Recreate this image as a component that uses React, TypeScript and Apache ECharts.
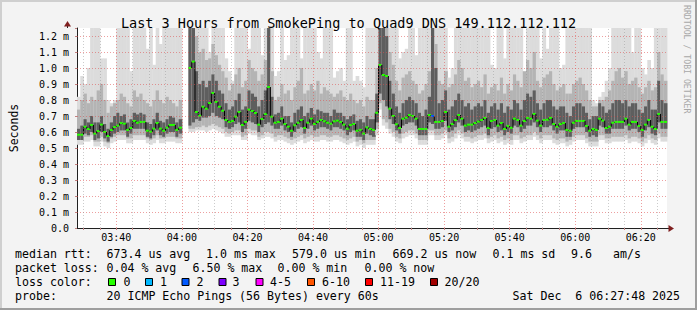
import React, { useEffect, useRef } from 'react';
import * as echarts from 'echarts';

// ---------- time axis ----------
const START_HOUR = 3;
const START_MIN = 28;
const SPAN_MIN = 180;
const timeCats: string[] = [];
for (let i = 0; i <= SPAN_MIN; i++) {
  const t = START_HOUR * 60 + START_MIN + i;
  timeCats.push(String(Math.floor(t / 60)).padStart(2, '0') + ':' + String(t % 60).padStart(2, '0'));
}
const majorTimes = ['03:40', '04:00', '04:20', '04:40', '05:00', '05:20', '05:40', '06:00', '06:20'];
const yTicks = [0.1, 0.2, 0.3, 0.4, 0.5, 0.6, 0.7, 0.8, 0.9, 1.0, 1.1, 1.2];

// ---------- per-minute data (ms) ----------
const median = [
  0.583, 0.583, 0.633, 0.619, 0.644, 0.590, 0.606, 0.646, 0.600, 0.575, 0.613, 0.631, 0.640, 0.656, 0.652, 0.613, 0.625, 0.669, 0.658, 0.663, 0.663, 0.608, 0.602, 0.621, 0.656, 0.621, 0.608, 0.627, 0.644, 0.644, 0.613, 0.627,
  null, null,
  1.000, 1.040, 0.725, 0.702, 0.758, 0.746, 0.781, 0.844, 0.788, 0.758, 0.733, 0.675, 0.663, 0.669, 0.696, 0.725, 0.644, 0.663, 0.740, 0.731, 0.719, 0.646, 0.681, 0.713, 0.881, 0.696,
  0.658, 0.663, 0.683, 0.650, 0.633, 0.608, 0.642, 0.658, 0.675, 0.625, 0.658, 0.683, 0.650, 0.663, 0.675, 0.667, 0.658, 0.652, 0.667, 0.671, 0.663, 0.646, 0.621, 0.644, 0.650, 0.608, 0.613, 0.590, 0.629, 0.619,
  0.613, 0.720, 1.019, 0.956, 0.950, 0.746, 0.700, 0.648, 0.625, 0.683, 0.690, 0.706, 0.700, 0.683, 0.619, 0.619, 0.619, 0.706, 0.700, 0.663, 0.663, 0.669, 0.725, 0.633, 0.650, 0.675, 0.706, 0.683, 0.640, 0.646,
  0.646, 0.656, 0.665, 0.675, 0.688, 0.625, 0.669, 0.675, 0.640, 0.656, 0.619, 0.638, 0.627, 0.683, 0.675, 0.640, 0.669, 0.688, 0.683, 0.713, 0.671, 0.640, 0.675, 0.677, 0.688, 0.650, 0.633, 0.650, 0.656, 0.613,
  0.608, 0.658, 0.669, 0.669, 0.669, 0.638, 0.608, 0.619, 0.613, 0.683, 0.671, 0.625, 0.633, 0.658, 0.663, 0.663, 0.663, 0.683, 0.646, 0.663, 0.663, 0.638, 0.613, 0.646, 0.675, 0.633, 0.619, 0.713, 0.663, 0.663,
];
const smokeTop = [
  0.82, 0.95, 0.90, 1.00, 1.25, 1.25, 1.25, 1.06, 1.06, 0.80, 0.78, 0.80, 1.25, 1.25, 1.25, 1.25, 0.98, 1.25, 1.25, 1.25, 1.25, 1.12, 1.25, 1.02, 1.25, 1.15, 1.25, 1.25, 1.25, 1.25, 1.25, 1.25,
  null, null,
  1.25, 1.25, 1.25, 1.25, 1.25, 1.25, 1.10, 1.25, 1.25, 1.25, 1.25, 1.06, 0.98, 0.92, 1.25, 1.25, 1.25, 1.25, 1.12, 1.25, 1.25, 1.25, 1.08, 1.25, 1.25, 1.25,
  0.95, 0.98, 1.25, 1.05, 1.08, 1.25, 1.25, 1.25, 1.06, 1.25, 1.25, 1.25, 1.25, 1.10, 1.06, 1.25, 1.25, 1.25, 0.94, 0.98, 1.00, 0.92, 1.25, 1.25, 0.92, 0.95, 0.92, 0.88, 1.25, 1.25,
  1.25, 1.25, 1.25, 1.25, 1.25, 1.25, 1.25, 1.25, 1.06, 1.10, 1.12, 1.25, 1.25, 1.08, 1.25, 1.25, 1.25, 1.25, 1.25, 1.25, 1.25, 1.25, 1.25, 0.94, 1.00, 1.25, 1.25, 1.25, 1.25, 1.25,
  1.25, 1.25, 1.25, 1.25, 1.25, 1.25, 1.02, 1.00, 1.25, 1.25, 1.06, 1.25, 1.25, 1.25, 1.25, 1.25, 0.95, 1.25, 1.25, 1.25, 1.25, 1.06, 1.25, 1.12, 1.25, 1.25, 1.25, 1.00, 1.02, 1.25,
  1.25, 1.25, 1.25, 1.25, 1.25, 1.25, 1.25, 0.80, 0.78, 0.82, 0.85, 0.92, 1.00, 1.25, 1.25, 1.25, 1.25, 1.25, 1.25, 1.10, 1.25, 1.25, 1.00, 0.96, 1.05, 1.00, 1.25, 1.25, 1.25, 1.25,
];
const smokeLow = [
  0.52, 0.52, 0.54, 0.54, 0.55, 0.51, 0.51, 0.54, 0.51, 0.50, 0.53, 0.54, 0.55, 0.55, 0.55, 0.53, 0.53, 0.55, 0.55, 0.55, 0.55, 0.53, 0.52, 0.53, 0.55, 0.53, 0.53, 0.54, 0.54, 0.54, 0.53, 0.53,
  null, null,
  0.60, 0.60, 0.61, 0.61, 0.61, 0.60, 0.61, 0.62, 0.61, 0.60, 0.59, 0.57, 0.57, 0.58, 0.58, 0.58, 0.55, 0.55, 0.59, 0.58, 0.58, 0.55, 0.56, 0.57, 0.57, 0.56,
  0.54, 0.55, 0.55, 0.54, 0.53, 0.52, 0.53, 0.54, 0.55, 0.53, 0.54, 0.55, 0.54, 0.54, 0.55, 0.55, 0.54, 0.54, 0.55, 0.55, 0.54, 0.53, 0.52, 0.53, 0.54, 0.51, 0.52, 0.50, 0.52, 0.52,
  0.52, 0.58, 0.74, 0.64, 0.62, 0.59, 0.57, 0.54, 0.53, 0.56, 0.57, 0.58, 0.58, 0.56, 0.52, 0.52, 0.52, 0.58, 0.58, 0.55, 0.55, 0.56, 0.58, 0.53, 0.54, 0.56, 0.58, 0.56, 0.54, 0.54,
  0.53, 0.54, 0.55, 0.55, 0.56, 0.53, 0.54, 0.55, 0.53, 0.54, 0.52, 0.53, 0.52, 0.55, 0.55, 0.53, 0.54, 0.55, 0.55, 0.57, 0.55, 0.53, 0.55, 0.55, 0.55, 0.53, 0.52, 0.53, 0.53, 0.51,
  0.52, 0.54, 0.55, 0.55, 0.55, 0.53, 0.51, 0.51, 0.51, 0.55, 0.55, 0.53, 0.53, 0.54, 0.54, 0.54, 0.54, 0.55, 0.53, 0.54, 0.54, 0.53, 0.51, 0.53, 0.55, 0.53, 0.52, 0.56, 0.54, 0.54,
];
const midLow = [
  0.55, 0.55, 0.57, 0.57, 0.58, 0.54, 0.54, 0.57, 0.54, 0.53, 0.56, 0.57, 0.58, 0.58, 0.58, 0.56, 0.56, 0.58, 0.58, 0.58, 0.58, 0.56, 0.55, 0.56, 0.58, 0.56, 0.56, 0.57, 0.57, 0.57, 0.56, 0.56,
  null, null,
  0.62, 0.62, 0.63, 0.63, 0.64, 0.63, 0.64, 0.65, 0.64, 0.63, 0.62, 0.60, 0.59, 0.60, 0.61, 0.61, 0.57, 0.58, 0.62, 0.61, 0.61, 0.57, 0.58, 0.60, 0.60, 0.59,
  0.57, 0.58, 0.58, 0.57, 0.56, 0.55, 0.56, 0.57, 0.58, 0.56, 0.57, 0.58, 0.57, 0.57, 0.58, 0.58, 0.57, 0.57, 0.58, 0.58, 0.57, 0.56, 0.55, 0.56, 0.57, 0.54, 0.55, 0.53, 0.55, 0.55,
  0.55, 0.62, 0.78, 0.68, 0.66, 0.62, 0.60, 0.57, 0.56, 0.59, 0.60, 0.61, 0.61, 0.59, 0.55, 0.55, 0.55, 0.61, 0.61, 0.58, 0.58, 0.59, 0.61, 0.56, 0.57, 0.59, 0.61, 0.59, 0.57, 0.57,
  0.56, 0.57, 0.58, 0.58, 0.59, 0.56, 0.57, 0.58, 0.56, 0.57, 0.55, 0.56, 0.55, 0.58, 0.58, 0.56, 0.57, 0.58, 0.58, 0.60, 0.58, 0.56, 0.58, 0.58, 0.58, 0.56, 0.55, 0.56, 0.56, 0.54,
  0.55, 0.57, 0.58, 0.58, 0.58, 0.56, 0.54, 0.54, 0.54, 0.58, 0.58, 0.56, 0.56, 0.57, 0.57, 0.57, 0.57, 0.58, 0.56, 0.57, 0.57, 0.56, 0.54, 0.56, 0.58, 0.56, 0.55, 0.59, 0.57, 0.57,
];
const midHigh = [
  0.74, 0.80, 0.84, 0.78, 0.82, 0.80, 0.86, 0.90, 0.80, 0.72, 0.76, 0.78, 0.80, 0.84, 0.82, 0.78, 0.76, 0.86, 0.82, 0.84, 0.80, 0.78, 0.76, 0.80, 0.86, 0.80, 0.78, 0.82, 0.80, 0.78, 0.76, 0.80,
  null, null,
  1.25, 1.25, 1.20, 1.10, 1.12, 1.05, 1.06, 1.15, 1.08, 1.02, 0.98, 0.94, 0.86, 0.90, 0.96, 1.00, 0.88, 0.92, 1.05, 1.00, 0.98, 0.92, 0.96, 1.05, 1.25, 0.98,
  0.80, 0.82, 0.90, 0.84, 0.86, 0.80, 0.88, 0.92, 1.00, 0.84, 0.86, 0.90, 0.86, 0.92, 0.84, 0.88, 0.86, 0.84, 0.82, 0.84, 0.86, 0.82, 0.80, 0.84, 0.80, 0.78, 0.80, 0.76, 0.82, 0.80,
  0.80, 1.00, 1.25, 1.25, 1.25, 1.10, 1.02, 0.92, 0.86, 0.94, 0.96, 0.98, 0.92, 0.90, 0.84, 0.86, 0.90, 0.98, 1.25, 1.15, 0.92, 0.90, 0.98, 0.88, 0.90, 0.96, 1.05, 1.00, 0.92, 0.94,
  0.88, 0.90, 0.92, 0.88, 0.96, 0.84, 0.88, 0.90, 0.86, 0.94, 0.84, 0.90, 0.86, 0.96, 0.92, 0.88, 0.98, 1.05, 1.00, 1.10, 0.92, 0.88, 0.94, 0.96, 0.98, 0.90, 0.86, 0.88, 0.90, 0.84,
  0.84, 0.90, 0.92, 0.94, 0.90, 0.86, 0.80, 0.76, 0.76, 0.80, 0.80, 0.82, 0.86, 0.92, 0.98, 1.00, 0.94, 0.98, 0.90, 0.92, 0.94, 0.88, 0.84, 0.88, 0.92, 0.86, 0.88, 1.10, 0.96, 0.92,
];
const darkLow = [
  0.55, 0.55, 0.59, 0.58, 0.60, 0.55, 0.56, 0.60, 0.56, 0.54, 0.57, 0.59, 0.60, 0.61, 0.61, 0.57, 0.59, 0.62, 0.62, 0.62, 0.62, 0.57, 0.56, 0.58, 0.61, 0.58, 0.57, 0.59, 0.60, 0.60, 0.57, 0.59,
  null, null,
  0.64, 0.66, 0.68, 0.67, 0.69, 0.69, 0.70, 0.72, 0.70, 0.69, 0.68, 0.63, 0.62, 0.63, 0.65, 0.66, 0.60, 0.62, 0.67, 0.66, 0.65, 0.60, 0.63, 0.65, 0.66, 0.64,
  0.62, 0.62, 0.64, 0.61, 0.60, 0.57, 0.60, 0.62, 0.63, 0.59, 0.62, 0.64, 0.61, 0.62, 0.63, 0.63, 0.62, 0.61, 0.63, 0.63, 0.62, 0.61, 0.58, 0.60, 0.61, 0.57, 0.57, 0.55, 0.59, 0.58,
  0.57, 0.66, 0.84, 0.80, 0.76, 0.68, 0.65, 0.61, 0.59, 0.64, 0.65, 0.66, 0.66, 0.64, 0.58, 0.58, 0.58, 0.66, 0.65, 0.62, 0.62, 0.63, 0.67, 0.60, 0.61, 0.63, 0.66, 0.64, 0.60, 0.61,
  0.60, 0.61, 0.62, 0.63, 0.64, 0.58, 0.62, 0.63, 0.60, 0.61, 0.58, 0.60, 0.59, 0.64, 0.63, 0.60, 0.62, 0.64, 0.64, 0.66, 0.63, 0.60, 0.63, 0.63, 0.64, 0.61, 0.59, 0.61, 0.61, 0.57,
  0.57, 0.62, 0.63, 0.63, 0.63, 0.60, 0.57, 0.58, 0.57, 0.64, 0.63, 0.59, 0.59, 0.62, 0.62, 0.62, 0.62, 0.64, 0.61, 0.62, 0.62, 0.60, 0.57, 0.61, 0.63, 0.59, 0.58, 0.66, 0.62, 0.62,
];
const darkHigh = [
  0.62, 0.64, 0.68, 0.66, 0.70, 0.66, 0.66, 0.70, 0.65, 0.62, 0.66, 0.70, 0.72, 0.70, 0.71, 0.66, 0.68, 0.72, 0.71, 0.72, 0.71, 0.66, 0.65, 0.68, 0.72, 0.67, 0.66, 0.68, 0.70, 0.69, 0.66, 0.68,
  null, null,
  1.25, 1.25, 0.98, 0.90, 0.92, 0.88, 0.92, 0.96, 0.92, 0.86, 0.84, 0.78, 0.74, 0.76, 0.80, 0.84, 0.74, 0.76, 0.86, 0.84, 0.82, 0.76, 0.80, 0.86, 1.25, 0.82,
  0.71, 0.72, 0.76, 0.70, 0.70, 0.66, 0.72, 0.74, 0.76, 0.70, 0.72, 0.75, 0.71, 0.74, 0.73, 0.72, 0.72, 0.70, 0.74, 0.72, 0.72, 0.70, 0.68, 0.70, 0.71, 0.67, 0.68, 0.66, 0.70, 0.68,
  0.68, 0.84, 1.25, 1.25, 1.20, 0.92, 0.84, 0.76, 0.72, 0.78, 0.80, 0.82, 0.80, 0.78, 0.72, 0.70, 0.74, 0.82, 1.25, 1.00, 0.78, 0.80, 0.86, 0.74, 0.76, 0.80, 0.84, 0.80, 0.76, 0.78,
  0.74, 0.76, 0.78, 0.76, 0.80, 0.72, 0.76, 0.78, 0.74, 0.78, 0.72, 0.76, 0.74, 0.80, 0.78, 0.74, 0.80, 0.84, 0.82, 0.86, 0.78, 0.74, 0.78, 0.80, 0.80, 0.76, 0.74, 0.76, 0.76, 0.72,
  0.70, 0.76, 0.78, 0.78, 0.76, 0.72, 0.68, 0.70, 0.70, 0.78, 0.76, 0.72, 0.74, 0.78, 0.80, 0.80, 0.78, 0.80, 0.76, 0.78, 0.78, 0.74, 0.72, 0.76, 0.80, 0.74, 0.74, 0.92, 0.80, 0.78,
];
// minutes whose median was drawn in a loss colour other than "0": [minute index, loss bucket]
const lossMinutes = [[108, 2]];

// ---------- legend / summary ----------
const LOSS_COLORS = ['#26ff00', '#00b8ff', '#0059ff', '#7e00ff', '#ff00ff', '#ff5500', '#ff0000', '#a10000'];
const LOSS_LABELS = ['0', '1', '2', '3', '4-5', '6-10', '11-19', '20/20'];
const rttRow = ['median rtt:', '673.4 us avg', '1.0 ms max', '579.0 us min', '669.2 us now', '0.1 ms sd', '9.6', 'am/s'];
const lossRow = ['packet loss:', '0.04 % avg', '6.50 % max', '0.00 % min', '0.00 % now'];
const probeRow = ['probe:', '20 ICMP Echo Pings (56 Bytes) every 60s', 'Sat Dec  6 06:27:48 2025'];
const TITLE = 'Last 3 Hours from SmokePing to Quad9 DNS 149.112.112.112';

// ---------- layout ----------
const W = 697, H = 310;
const GRID = { left: 67, top: 28, width: 600, height: 200 };
const MONO = '"DejaVu Sans Mono", monospace';
const LEG_FONT = '11.6px "DejaVu Sans Mono", monospace';
const rttX = [15, 106.5, 206, 292, 392.5, 492.5, 571, 613];
const lossX = [15, 106.5, 192.5, 277.5, 364.5];
const boxX = [108.5, 145.5, 182, 219, 256, 307.5, 365.5, 430.5];
const boxLabelX = [123.5, 160, 196.5, 232.5, 270, 322, 380, 444.5];
const probeX = [15, 106.5, 512.5];
const rowY = [254, 268, 282, 296];

function buildOption() {
  const lossMap: Record<number, number> = {};
  lossMinutes.forEach(([m, b]) => { lossMap[m] = b; });
  const data: number[][] = [];
  for (let i = 0; i < median.length; i++) {
    if (median[i] == null) continue;
    const prev = i > 0 && median[i - 1] != null ? (median[i - 1] as number) : NaN;
    data.push([i, smokeLow[i] as number, smokeTop[i] as number, midLow[i] as number, midHigh[i] as number,
      darkLow[i] as number, darkHigh[i] as number, median[i] as number, prev, lossMap[i] ?? 0]);
  }

  const majorGrid = 'rgba(222,80,80,0.55)';
  const minorGrid = 'rgba(143,143,143,0.45)';
  const markData: any[] = [];
  yTicks.forEach((v) => markData.push({ yAxis: v, lineStyle: { color: majorGrid, type: [1, 2], width: 1 } }));
  timeCats.forEach((c, i) => {
    const mm = parseInt(c.slice(3), 10);
    if (i === 0 || i === SPAN_MIN) return;
    if (majorTimes.includes(c)) markData.push({ xAxis: i, lineStyle: { color: majorGrid, type: [1, 2], width: 1 } });
    else if (mm % 5 === 0) markData.push({ xAxis: i, lineStyle: { color: minorGrid, type: [1, 2], width: 1 } });
  });

  const graphics: any[] = [
    { type: 'rect', shape: { x: 0, y: 0, width: W, height: 2 }, style: { fill: '#cfcfcf' }, silent: true },
    { type: 'rect', shape: { x: 0, y: 0, width: 2, height: H }, style: { fill: '#cfcfcf' }, silent: true },
    { type: 'rect', shape: { x: 0, y: H - 2, width: W, height: 2 }, style: { fill: '#9e9e9e' }, silent: true },
    { type: 'rect', shape: { x: W - 2, y: 0, width: 2, height: H }, style: { fill: '#9e9e9e' }, silent: true },
    // axis extensions and arrows
    { type: 'line', shape: { x1: 667, y1: 228.5, x2: 669, y2: 228.5 }, style: { stroke: '#202020', lineWidth: 1 }, z: 10 },
    { type: 'polygon', shape: { points: [[668.5, 225], [674, 228.5], [668.5, 232]] }, style: { fill: '#7f1f1f' }, z: 10 },
    { type: 'line', shape: { x1: 67.5, y1: 28, x2: 67.5, y2: 26 }, style: { stroke: '#202020', lineWidth: 1 }, z: 10 },
    { type: 'polygon', shape: { points: [[64, 26.5], [67.5, 21], [71, 26.5]] }, style: { fill: '#7f1f1f' }, z: 10 },
    {
      type: 'text', x: 687, y: 5, rotation: -Math.PI / 2,
      style: { text: 'RRDTOOL / TOBI OETIKER', font: '8.2px "DejaVu Sans Mono", monospace', fill: '#a8a8a8', align: 'left', verticalAlign: 'middle' },
    },
  ];
  rttRow.forEach((t, k) => graphics.push({ type: 'text', x: rttX[k], y: rowY[0], style: { text: t, font: LEG_FONT, fill: '#000', align: 'left', verticalAlign: 'middle' } }));
  lossRow.forEach((t, k) => graphics.push({ type: 'text', x: lossX[k], y: rowY[1], style: { text: t, font: LEG_FONT, fill: '#000', align: 'left', verticalAlign: 'middle' } }));
  graphics.push({ type: 'text', x: 15, y: rowY[2], style: { text: 'loss color:', font: LEG_FONT, fill: '#000', align: 'left', verticalAlign: 'middle' } });
  LOSS_LABELS.forEach((lab, k) => {
    graphics.push({ type: 'rect', shape: { x: boxX[k], y: rowY[2] - 3.5, width: 7, height: 7 }, style: { fill: LOSS_COLORS[k], stroke: '#000', lineWidth: 1 } });
    graphics.push({ type: 'text', x: boxLabelX[k], y: rowY[2], style: { text: lab, font: LEG_FONT, fill: '#000', align: 'left', verticalAlign: 'middle' } });
  });
  probeRow.forEach((t, k) => graphics.push({ type: 'text', x: probeX[k], y: rowY[3], style: { text: t, font: LEG_FONT, fill: '#000', align: 'left', verticalAlign: 'middle' } }));

  return {
    animation: false,
    backgroundColor: '#f3f3f3',
    title: {
      text: TITLE, left: 'center', top: 11,
      textStyle: { fontFamily: MONO, fontSize: 13.5, fontWeight: 'normal', color: '#000' },
    },
    grid: { ...GRID, show: true, backgroundColor: '#ffffff', borderWidth: 0 },
    xAxis: {
      type: 'category', data: timeCats, boundaryGap: false,
      axisLine: { lineStyle: { color: '#202020', width: 1 } },
      axisTick: {
        show: true, length: 2,
        interval: (i: number, v: string) => parseInt(v.slice(3), 10) % 5 === 0,
        lineStyle: { color: '#c08080' },
      },
      axisLabel: {
        interval: (i: number, v: string) => majorTimes.includes(v),
        fontFamily: MONO, fontSize: 10, color: '#000', margin: 4,
      },
      splitLine: { show: false },
    },
    yAxis: {
      type: 'value', min: 0, max: 1.25, interval: 0.1,
      name: 'Seconds', nameLocation: 'middle', nameRotate: 90, nameGap: 57,
      nameTextStyle: { fontFamily: MONO, fontSize: 11.5, color: '#000' },
      axisLine: { show: true, lineStyle: { color: '#202020', width: 1 } },
      axisTick: { show: true, length: 2, lineStyle: { color: '#c08080' } },
      axisLabel: {
        fontFamily: MONO, fontSize: 10, color: '#000', margin: 8,
        formatter: (v: number) => {
          if (Math.abs(v * 10 - Math.round(v * 10)) > 1e-6) return '';
          return v === 0 ? '0.0' : v.toFixed(1) + ' m';
        },
      },
      splitLine: { show: false },
    },
    graphic: graphics,
    series: [
      {
        type: 'custom',
        data,
        encode: { x: 0, y: [1, 2, 3, 4, 5, 6, 7] },
        renderItem: (params: any, api: any) => {
          const i = api.value(0);
          const x0 = api.coord([i, 0])[0];
          const x1 = api.coord([i + 1, 0])[0];
          const yOf = (v: number) => api.coord([i, v])[1];
          const band = (a: number, b: number, fill: string) => ({
            type: 'rect',
            shape: { x: x0, y: yOf(b), width: x1 - x0 + 0.4, height: yOf(a) - yOf(b) },
            style: { fill },
          });
          const med = api.value(7);
          const prev = api.value(8);
          const loss = api.value(9);
          const children: any[] = [
            band(api.value(1), api.value(2), '#dcdcdc'),
            band(api.value(3), api.value(4), '#b4b4b4'),
            band(api.value(5), api.value(6), '#5e5e5e'),
          ];
          if (!isNaN(prev)) {
            children.push({ type: 'line', shape: { x1: x0, y1: yOf(prev), x2: x0, y2: yOf(med) }, style: { stroke: '#000', lineWidth: 1 } });
          }
          children.push({
            type: 'rect', shape: { x: x0, y: yOf(med) - 1, width: x1 - x0, height: 2 },
            style: { fill: LOSS_COLORS[loss] },
          });
          return { type: 'group', children };
        },
        markLine: { silent: true, symbol: ['none', 'none'], label: { show: false }, data: markData, z: 5 },
      },
    ],
  };
}

export default function App() {
  const ref = useRef<HTMLDivElement>(null);
  useEffect(() => {
    const chart = echarts.init(ref.current as HTMLDivElement, null, { renderer: 'svg' });
    chart.setOption(buildOption() as any);
    return () => chart.dispose();
  }, []);
  return <div ref={ref} style={{ position: 'fixed', left: 0, top: 0, width: W, height: H }} />;
}
